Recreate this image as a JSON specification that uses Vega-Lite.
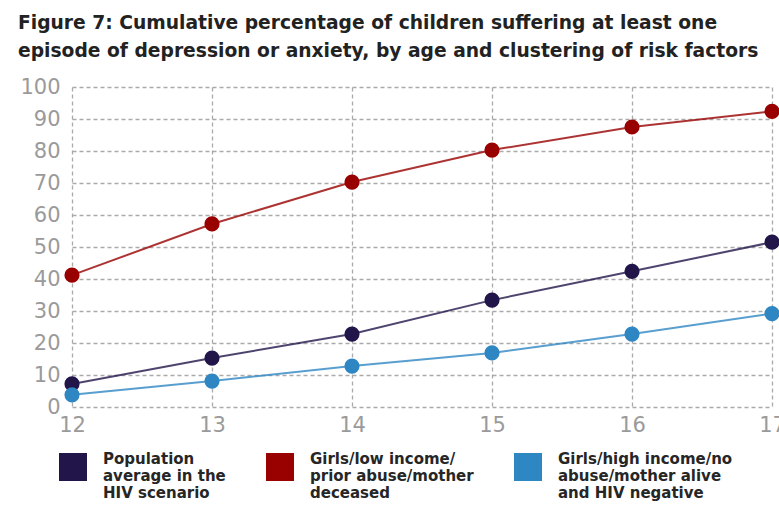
{
  "$schema": "https://vega.github.io/schema/vega-lite/v6.json",
  "autosize": "none",
  "width": 700,
  "height": 320,
  "padding": {"left": 72, "top": 87, "right": 7, "bottom": 104},
  "background": "white",
  "title": {
    "text": ["Figure 7: Cumulative percentage of children suffering at least one", "episode of depression or anxiety, by age and clustering of risk factors"],
    "anchor": "start",
    "frame": "group",
    "dx": -54,
    "offset": 15,
    "font": "DejaVu Sans",
    "fontSize": 18.7,
    "fontWeight": "bold",
    "color": "#222222",
    "lineHeight": 28
  },
  "data": {
    "values": [
      {"age": 12, "group": "Population|average in the|HIV scenario", "pct": 7.2},
      {"age": 13, "group": "Population|average in the|HIV scenario", "pct": 15.3},
      {"age": 14, "group": "Population|average in the|HIV scenario", "pct": 22.8},
      {"age": 15, "group": "Population|average in the|HIV scenario", "pct": 33.4},
      {"age": 16, "group": "Population|average in the|HIV scenario", "pct": 42.4},
      {"age": 17, "group": "Population|average in the|HIV scenario", "pct": 51.5},
      {"age": 12, "group": "Girls/low income/|prior abuse/mother|deceased", "pct": 41.2},
      {"age": 13, "group": "Girls/low income/|prior abuse/mother|deceased", "pct": 57.2},
      {"age": 14, "group": "Girls/low income/|prior abuse/mother|deceased", "pct": 70.3},
      {"age": 15, "group": "Girls/low income/|prior abuse/mother|deceased", "pct": 80.3},
      {"age": 16, "group": "Girls/low income/|prior abuse/mother|deceased", "pct": 87.5},
      {"age": 17, "group": "Girls/low income/|prior abuse/mother|deceased", "pct": 92.4},
      {"age": 12, "group": "Girls/high income/no|abuse/mother alive|and HIV negative", "pct": 3.8},
      {"age": 13, "group": "Girls/high income/no|abuse/mother alive|and HIV negative", "pct": 8.1},
      {"age": 14, "group": "Girls/high income/no|abuse/mother alive|and HIV negative", "pct": 12.8},
      {"age": 15, "group": "Girls/high income/no|abuse/mother alive|and HIV negative", "pct": 16.9},
      {"age": 16, "group": "Girls/high income/no|abuse/mother alive|and HIV negative", "pct": 22.8},
      {"age": 17, "group": "Girls/high income/no|abuse/mother alive|and HIV negative", "pct": 29.2}
    ]
  },
  "encoding": {
    "x": {
      "field": "age", "type": "quantitative",
      "scale": {"domain": [12, 17], "nice": false, "zero": false},
      "axis": {"title": null, "values": [12, 13, 14, 15, 16, 17], "domain": false, "ticks": false, "labelPadding": 7, "labelFont": "DejaVu Sans", "labelFontSize": 21, "labelColor": "#9a9a9a", "gridDash": [4, 3], "gridColor": "#aaaaaa", "gridWidth": 1.3, "labelFlush": false}
    },
    "y": {
      "field": "pct", "type": "quantitative",
      "scale": {"domain": [0, 100], "nice": false},
      "axis": {"title": null, "values": [0, 10, 20, 30, 40, 50, 60, 70, 80, 90, 100], "domain": false, "ticks": false, "labelPadding": 12, "labelFont": "DejaVu Sans", "labelFontSize": 21, "labelColor": "#9a9a9a", "gridDash": [4, 3], "gridColor": "#aaaaaa", "gridWidth": 1.3}
    },
    "color": {
      "field": "group", "type": "nominal",
      "sort": ["Population|average in the|HIV scenario", "Girls/low income/|prior abuse/mother|deceased", "Girls/high income/no|abuse/mother alive|and HIV negative"],
      "scale": {
        "domain": ["Population|average in the|HIV scenario", "Girls/low income/|prior abuse/mother|deceased", "Girls/high income/no|abuse/mother alive|and HIV negative"],
        "range": ["#22154a", "#990000", "#2e86c3"]
      },
      "legend": {
        "title": null,
        "orient": "none",
        "legendX": -13,
        "legendY": 366,
        "direction": "horizontal",
        "columns": 3,
        "columnPadding": 40,
        "symbolType": "square",
        "symbolSize": 784,
        "symbolStrokeWidth": 0,
        "symbolOpacity": 1,
        "labelExpr": "split(datum.label, '|')",
        "labelFont": "DejaVu Sans",
        "labelFontSize": 15,
        "labelFontWeight": "bold",
        "labelColor": "#262626",
        "labelLineHeight": 18,
        "labelBaseline": "bottom",
        "labelLimit": 250,
        "labelOffset": 16
      }
    }
  },
  "layer": [
    {"mark": {"type": "line", "strokeWidth": 2, "opacity": 0.8}},
    {"mark": {"type": "circle", "size": 230, "opacity": 1}}
  ],
  "config": {"view": {"stroke": null}}
}
